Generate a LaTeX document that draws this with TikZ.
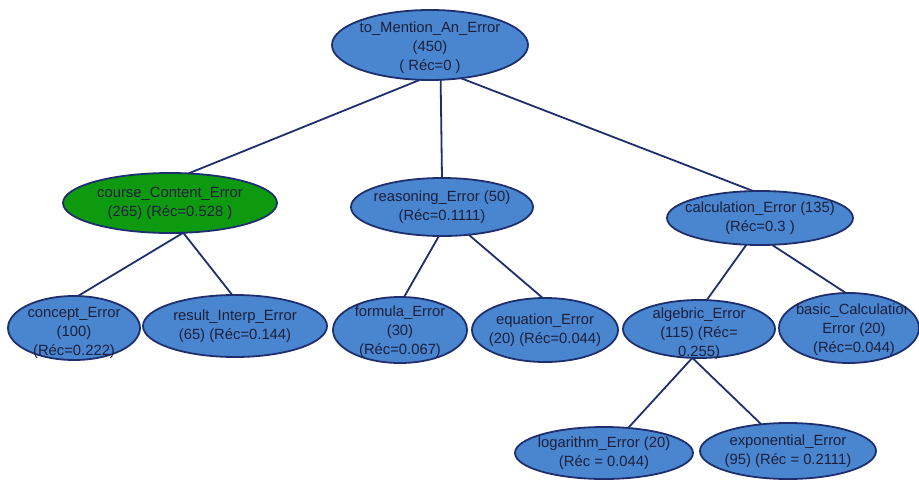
\documentclass[tikz,border=0pt]{standalone}
\usepackage{fontspec}
\setmainfont{Liberation Sans}
\usetikzlibrary{shapes.geometric}
\definecolor{nodeblue}{HTML}{4A86D0}
\definecolor{nodegreen}{HTML}{0E9A0E}
\definecolor{edgeblue}{HTML}{1F2F6E}
\definecolor{textdark}{HTML}{1B1F3B}
\begin{document}
\begin{tikzpicture}[x=1pt,y=-1pt,
  ell/.style={ellipse, draw=edgeblue, line width=1.8pt, fill=nodeblue, inner sep=0pt, outer sep=0pt},
  greenell/.style={ell, fill=nodegreen},
  txt/.style={align=center, text=textdark, font=\fontsize{14.8}{19}\selectfont, inner sep=0pt},
  conn/.style={draw=edgeblue, line width=1.8pt}]
\path[fill=white, use as bounding box] (0,0) rectangle (919,482);

% ellipses
\node[ell, minimum width=196pt, minimum height=70pt] (root) at (430,45) {};
\node[greenell, minimum width=214pt, minimum height=60pt] (course) at (170,203) {};
\node[ell, minimum width=182pt, minimum height=58pt] (reasoning) at (442,207) {};
\node[ell, minimum width=186pt, minimum height=54pt] (calc) at (760,218) {};
\node[ell, minimum width=132pt, minimum height=64pt] (concept) at (74,328) {};
\node[ell, minimum width=184pt, minimum height=62pt] (result) at (235,326) {};
\node[ell, minimum width=134pt, minimum height=66pt] (formula) at (400,330) {};
\node[ell, minimum width=146pt, minimum height=64pt] (equation) at (545,330) {};
\node[ell, minimum width=152pt, minimum height=58pt] (algebric) at (699,329) {};
\node[ell, minimum width=140pt, minimum height=70pt] (basic) at (849,328) {};
\node[ell, minimum width=178pt, minimum height=52pt] (logarithm) at (604,453) {};
\node[ell, minimum width=176pt, minimum height=56pt] (exponential) at (788,451) {};

% texts (yshift is in page direction: negative moves down)
\node[txt] (root-t) at ([yshift=-2.5pt]root.center) {to\_Mention\_An\_Error\\(450)\\( Réc=0 )};
\node[txt] (course-t) at (course) {course\_Content\_Error\\(265) (Réc=0.528 )};
\node[txt] (reasoning-t) at (reasoning) {reasoning\_Error (50)\\(Réc=0.1111)};
\node[txt] (calc-t) at (calc) {calculation\_Error (135)\\(Réc=0.3 )};
\node[txt] (concept-t) at ([yshift=-5pt]concept.center) {concept\_Error\\(100)\\(Réc=0.222)};
\node[txt] (result-t) at (result) {result\_Interp\_Error\\(65) (Réc=0.144)};
\node[txt] (formula-t) at ([yshift=-2pt]formula.center) {formula\_Error\\(30)\\(Réc=0.067)};
\node[txt] (equation-t) at (equation) {equation\_Error\\(20) (Réc=0.044)};
\node[txt] (algebric-t) at ([yshift=-5pt]algebric.center) {algebric\_Error\\(115) (Réc=\\0.255)};
\begin{scope}
  \clip (0,0) rectangle (906,482);
  \node[txt] (basic-t) at ([xshift=5pt,yshift=-2pt]basic.center) {basic\_Calculation\\Error (20)\\(Réc=0.044)};
\end{scope}
\node[txt] (logarithm-t) at (logarithm) {logarithm\_Error (20)\\(Réc = 0.044)};
\node[txt] (exponential-t) at (exponential) {exponential\_Error\\(95) (Réc = 0.2111)};

% connectors
\draw[conn] (root.254) -- (course.58);
\draw[conn] (root.287) -- (reasoning.north);
\draw[conn] (root.313) -- (calc.104);
\draw[conn] (course.294) -- (concept.83);
\draw[conn] (course.294) -- (result.95);
\draw[conn] (reasoning.264) -- (formula.83);
\draw[conn] (reasoning.314) -- (equation.94);
\draw[conn] (calc.243) -- (algebric.75);
\draw[conn] (calc.294) -- (basic.95);
\draw[conn] (algebric.257) -- (logarithm.46);
\draw[conn] (algebric.257) -- (exponential.135);
\end{tikzpicture}
\end{document}
